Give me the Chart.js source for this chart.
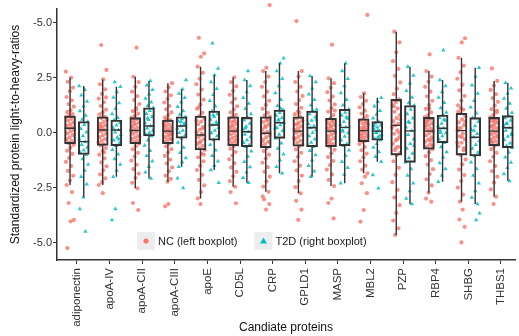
<!DOCTYPE html>
<html lang="en">
<head>
  <meta charset="UTF-8" />
  <title>Candidate proteins – light-to-heavy ratios</title>
  <script src="https://cdn.jsdelivr.net/npm/chart.js"></script>
  <style>
    body { margin: 0; background: #fff; }
    #wrap { width: 519px; height: 336px; }
  </style>
</head>
<body>
  <div id="wrap"><canvas id="proteinChart"></canvas></div>

  <script>
    const proteins = ["adiponectin", "apoA-IV", "apoA-CII", "apoA-CIII", "apoE", "CD5L", "CRP",
      "GPLD1", "MASP", "MBL2", "PZP", "RBP4", "SHBG", "THBS1"];

    const yTickValues = [-5, -2.5, 0, 2.5, 5];
    const yTickLabels = ["-5.0", "-2.5", "0.0", "2.5", "-5.0"];

    // box statistics, NC (left box)
    const ncLow    = [-2.38, -2.38, -2.53, -2.23, -2.99, -2.46, -2.69, -2.76, -2.43, -1.85, -4.65, -2.73, -3.14, -2.91];
    const ncQ1     = [-0.5, -0.58, -0.5, -0.5, -0.79, -0.6, -0.69, -0.62, -0.64, -0.41, -1.02, -0.75, -1.02, -0.6];
    const ncMedian = [0.2, 0.12, 0.1, 0.07, -0.11, 0.07, -0.03, 0.07, 0.07, 0.09, 0.33, 0.07, 0.09, 0.07];
    const ncQ3     = [0.75, 0.72, 0.68, 0.57, 0.75, 0.72, 0.72, 0.72, 0.65, 0.63, 1.51, 0.69, 0.88, 0.69];
    const ncHigh   = [2.5, 2.42, 2.54, 2.25, 3.0, 2.51, 2.8, 2.8, 2.47, 1.79, 4.59, 2.8, 3.4, 2.35];

    // box statistics, T2D (right box)
    const t2dLow    = [-2.94, -2.0, -2.08, -1.55, -1.7, -2.28, -1.85, -2.0, -2.3, -1.32, -3.25, -2.23, -3.25, -2.2];
    const t2dQ1     = [-0.99, -0.6, -0.15, -0.25, -0.34, -0.64, -0.26, -0.64, -0.6, -0.34, -1.35, -0.46, -1.06, -0.69];
    const t2dMedian = [-0.41, 0.12, 0.3, 0.3, 0.35, 0.04, 0.45, 0.22, 0.24, 0.07, 0.08, 0.2, -0.21, 0.22];
    const t2dQ3     = [0.5, 0.57, 1.13, 0.72, 0.98, 0.69, 1.03, 0.98, 1.06, 0.5, 1.23, 0.8, 0.68, 0.77];
    const t2dHigh   = [2.12, 2.09, 2.35, 1.97, 2.62, 2.39, 3.15, 2.57, 3.15, 1.59, 3.0, 2.39, 2.95, 2.27];

    // individual samples, NC
    const ncPoints = [
      [2.77, 2.5, 2.31, 2.05, 1.88, 1.62, 1.47, 1.3, 1.18, 1.02, 0.93, 0.84, 0.77, 0.71, 0.62, 0.55, 0.46, 0.38, 0.31, 0.24, 0.2, 0.14, 0.06, -0.03, -0.11, -0.22, -0.3, -0.38, -0.47, -0.55, -0.68, -0.82, -0.97, -1.15, -1.33, -1.52, -1.74, -1.96, -2.18, -2.38, -2.7, -3.2, -3.97, -4.03, -5.25],
      [3.98, 2.85, 2.42, 2.2, 1.97, 1.76, 1.55, 1.38, 1.21, 1.05, 0.92, 0.83, 0.72, 0.66, 0.57, 0.48, 0.4, 0.33, 0.25, 0.18, 0.12, 0.05, -0.04, -0.12, -0.2, -0.29, -0.37, -0.45, -0.52, -0.58, -0.7, -0.84, -1.0, -1.17, -1.35, -1.53, -1.71, -1.9, -2.08, -2.25, -2.38, -0.9, 0.3, 1.6, -2.75],
      [3.86, 2.54, 2.3, 2.08, 1.86, 1.66, 1.48, 1.3, 1.13, 0.98, 0.86, 0.76, 0.68, 0.61, 0.53, 0.45, 0.37, 0.29, 0.22, 0.16, 0.1, 0.03, -0.05, -0.13, -0.21, -0.29, -0.36, -0.43, -0.5, -0.62, -0.76, -0.92, -1.09, -1.27, -1.46, -1.66, -1.86, -2.06, -2.28, -2.53, 0.42, -0.2, 1.05, -3.2, -3.52],
      [2.25, 2.06, 1.87, 1.7, 1.53, 1.37, 1.21, 1.06, 0.92, 0.8, 0.68, 0.57, 0.51, 0.44, 0.37, 0.3, 0.23, 0.16, 0.11, 0.07, 0.01, -0.06, -0.13, -0.2, -0.27, -0.34, -0.42, -0.5, -0.62, -0.75, -0.9, -1.06, -1.23, -1.4, -1.58, -1.76, -1.95, -2.1, -2.23, 0.33, -0.08, 0.6, -0.3, -3.25, -3.35],
      [4.31, 3.6, 3.45, 3.0, 2.72, 2.45, 2.2, 1.96, 1.73, 1.5, 1.28, 1.08, 0.9, 0.75, 0.63, 0.5, 0.38, 0.26, 0.14, 0.02, -0.11, -0.2, -0.3, -0.4, -0.5, -0.6, -0.7, -0.79, -0.95, -1.12, -1.3, -1.5, -1.7, -1.92, -2.15, -2.4, -2.7, -2.99, 0.2, -0.45, 0.55, -0.05, 1.15, -1.0, -3.25],
      [2.51, 2.3, 2.1, 1.9, 1.72, 1.54, 1.37, 1.2, 1.05, 0.92, 0.81, 0.72, 0.64, 0.56, 0.48, 0.4, 0.32, 0.24, 0.16, 0.11, 0.07, 0.0, -0.08, -0.16, -0.24, -0.32, -0.4, -0.48, -0.54, -0.6, -0.73, -0.88, -1.04, -1.21, -1.39, -1.58, -1.78, -1.98, -2.2, -2.46, 0.3, -0.3, 0.5, -2.7, -3.21],
      [5.8, 2.95, 2.8, 2.55, 2.3, 2.08, 1.86, 1.65, 1.45, 1.26, 1.08, 0.9, 0.78, 0.72, 0.6, 0.48, 0.36, 0.25, 0.14, 0.04, -0.03, -0.12, -0.22, -0.32, -0.42, -0.52, -0.6, -0.69, -0.84, -1.0, -1.18, -1.37, -1.57, -1.78, -2.0, -2.22, -2.45, -2.69, 0.3, -0.4, 0.55, -3.03, -3.25, -3.5, -2.9],
      [5.07, 2.8, 2.55, 2.3, 2.08, 1.87, 1.67, 1.48, 1.3, 1.13, 0.97, 0.84, 0.72, 0.64, 0.55, 0.46, 0.37, 0.28, 0.2, 0.13, 0.07, -0.01, -0.1, -0.19, -0.28, -0.37, -0.46, -0.55, -0.62, -0.76, -0.92, -1.1, -1.3, -1.5, -1.72, -1.95, -2.2, -2.48, -2.76, 0.4, -0.25, 0.9, -3.1, -3.5, -3.97],
      [4.0, 2.47, 2.25, 2.04, 1.84, 1.64, 1.46, 1.28, 1.11, 0.95, 0.8, 0.65, 0.58, 0.5, 0.42, 0.35, 0.27, 0.2, 0.13, 0.07, 0.0, -0.08, -0.16, -0.25, -0.34, -0.43, -0.52, -0.64, -0.78, -0.94, -1.11, -1.29, -1.48, -1.68, -1.9, -2.15, -2.43, 0.3, -0.3, 0.55, -0.5, 1.0, -3.0, -3.2, -3.9],
      [5.35, 1.79, 1.62, 1.45, 1.3, 1.15, 1.0, 0.87, 0.75, 0.63, 0.56, 0.49, 0.42, 0.35, 0.28, 0.21, 0.15, 0.09, 0.03, -0.03, -0.1, -0.17, -0.24, -0.31, -0.37, -0.41, -0.52, -0.65, -0.8, -0.95, -1.12, -1.3, -1.5, -1.68, -1.85, 0.2, -0.15, 0.45, 0.1, -0.3, -2.0, -2.3, -2.75, -3.52, -4.05],
      [4.59, 4.1, 3.65, 3.25, 2.9, 2.58, 2.28, 2.0, 1.75, 1.51, 1.38, 1.25, 1.1, 0.95, 0.8, 0.66, 0.52, 0.4, 0.33, 0.22, 0.1, -0.05, -0.2, -0.35, -0.5, -0.65, -0.8, -0.92, -1.02, -1.3, -1.6, -1.92, -2.25, -2.6, -2.95, -3.3, -3.65, -4.0, -4.35, -4.65, 0.6, -0.3, 1.2, 0.0, -0.7],
      [3.56, 2.8, 2.55, 2.31, 2.08, 1.86, 1.65, 1.45, 1.26, 1.08, 0.92, 0.78, 0.69, 0.6, 0.51, 0.42, 0.33, 0.25, 0.17, 0.1, 0.07, -0.02, -0.12, -0.22, -0.32, -0.42, -0.53, -0.64, -0.75, -0.9, -1.07, -1.25, -1.45, -1.66, -1.88, -2.12, -2.4, -2.73, 0.35, -0.35, 0.5, -0.6, 1.1, -3.0, -3.14],
      [4.29, 4.1, 3.4, 3.05, 2.75, 2.45, 2.18, 1.92, 1.67, 1.45, 1.24, 1.05, 0.88, 0.74, 0.6, 0.47, 0.34, 0.21, 0.09, -0.04, -0.17, -0.31, -0.46, -0.62, -0.8, -1.02, -1.22, -1.44, -1.68, -1.93, -2.2, -2.5, -2.82, -3.14, 0.5, -0.2, 0.2, -0.7, 1.1, -0.45, -3.5, -3.95, -4.28, -4.99, 0.95],
      [2.92, 2.35, 2.14, 1.94, 1.75, 1.57, 1.4, 1.23, 1.07, 0.92, 0.8, 0.69, 0.61, 0.53, 0.45, 0.37, 0.29, 0.21, 0.14, 0.07, 0.0, -0.07, -0.15, -0.23, -0.31, -0.39, -0.47, -0.54, -0.6, -0.75, -0.92, -1.1, -1.3, -1.52, -1.75, -2.0, -2.27, -2.58, -2.91, 0.3, -0.2, 0.5, -0.4, 1.0, -3.25]
    ];

    // individual samples, T2D
    const t2dPoints = [
      [2.12, 1.95, 1.7, 1.42, 1.2, 0.98, 0.78, 0.6, 0.5, 0.36, 0.18, 0.02, -0.15, -0.3, -0.41, -0.55, -0.68, -0.8, -0.92, -1.0, -1.2, -1.45, -1.72, -2.0, -2.35, -2.94, -3.47, -4.5],
      [2.3, 2.09, 1.85, 1.6, 1.35, 1.1, 0.85, 0.68, 0.57, 0.45, 0.33, 0.22, 0.12, 0.02, -0.1, -0.22, -0.35, -0.48, -0.6, -0.78, -0.98, -1.2, -1.45, -1.72, -2.0, -0.3, -3.47, -3.97],
      [2.35, 2.15, 1.95, 1.75, 1.55, 1.38, 1.22, 1.13, 1.0, 0.86, 0.72, 0.58, 0.44, 0.3, 0.2, 0.1, 0.0, -0.08, -0.15, -0.35, -0.58, -0.82, -1.05, -1.3, -1.55, -1.8, -2.08, 0.65],
      [2.39, 1.97, 1.78, 1.58, 1.38, 1.18, 0.98, 0.82, 0.72, 0.62, 0.52, 0.42, 0.3, 0.2, 0.1, 0.0, -0.12, -0.25, -0.45, -0.68, -0.92, -1.15, -1.35, -1.55, 0.35, 0.5, -2.07, -2.52],
      [4.06, 2.92, 2.62, 2.3, 2.0, 1.72, 1.45, 1.2, 0.98, 0.85, 0.72, 0.6, 0.48, 0.35, 0.22, 0.1, -0.02, -0.15, -0.34, -0.55, -0.8, -1.05, -1.3, -1.5, -1.7, 0.4, 0.8, -2.28],
      [2.8, 2.39, 2.12, 1.85, 1.58, 1.32, 1.08, 0.85, 0.69, 0.56, 0.42, 0.28, 0.15, 0.04, -0.08, -0.2, -0.33, -0.46, -0.56, -0.64, -0.85, -1.08, -1.32, -1.56, -1.8, -2.05, -2.28, 0.2],
      [3.38, 3.15, 2.8, 2.45, 2.12, 1.8, 1.5, 1.22, 1.03, 0.9, 0.78, 0.66, 0.55, 0.45, 0.35, 0.22, 0.08, -0.08, -0.26, -0.48, -0.72, -0.98, -1.25, -1.55, -1.85, 0.6, 0.2, 1.1],
      [2.57, 2.3, 2.02, 1.75, 1.5, 1.25, 1.05, 0.98, 0.85, 0.7, 0.55, 0.4, 0.3, 0.22, 0.12, 0.0, -0.15, -0.3, -0.45, -0.58, -0.64, -0.82, -1.02, -1.25, -1.5, -1.75, -2.0, 0.6],
      [3.15, 2.8, 2.45, 2.12, 1.8, 1.5, 1.25, 1.06, 0.92, 0.78, 0.64, 0.5, 0.37, 0.24, 0.12, -0.02, -0.18, -0.35, -0.5, -0.6, -0.8, -1.05, -1.32, -1.6, -1.9, -2.3, 0.7, 0.05],
      [1.59, 1.4, 1.2, 1.0, 0.82, 0.65, 0.5, 0.42, 0.33, 0.24, 0.15, 0.07, -0.01, -0.1, -0.2, -0.28, -0.34, -0.5, -0.68, -0.88, -1.1, -1.32, 0.1, 0.3, -0.15, 0.0, -1.93, -2.53],
      [3.0, 2.6, 2.25, 1.9, 1.6, 1.35, 1.23, 1.05, 0.85, 0.65, 0.45, 0.25, 0.08, -0.1, -0.3, -0.5, -0.72, -0.95, -1.15, -1.35, -1.65, -1.95, -2.3, -2.65, -3.0, -3.25, 0.5, -0.6],
      [3.75, 2.39, 2.12, 1.85, 1.6, 1.36, 1.12, 0.92, 0.8, 0.68, 0.55, 0.42, 0.3, 0.2, 0.1, -0.02, -0.15, -0.3, -0.46, -0.65, -0.88, -1.12, -1.38, -1.65, -1.95, -2.23, 0.6, 0.0],
      [2.95, 2.55, 2.15, 1.78, 1.45, 1.15, 0.88, 0.68, 0.5, 0.3, 0.12, -0.05, -0.21, -0.38, -0.55, -0.72, -0.9, -1.06, -1.35, -1.65, -1.95, -2.3, -2.65, -2.95, -3.25, 0.1, -3.67, -3.97],
      [2.27, 2.02, 1.78, 1.55, 1.32, 1.1, 0.9, 0.77, 0.66, 0.55, 0.43, 0.32, 0.22, 0.1, -0.04, -0.18, -0.33, -0.48, -0.6, -0.69, -0.9, -1.12, -1.36, -1.6, -1.88, -2.2, 0.4, -0.1]
    ];

    const NC_COLOR = "#F8766D";
    const T2D_COLOR = "#00BFC4";
    const BOX_SHIFT = 0.21;   // half distance between the two boxes of a protein

    // spread points sideways around the box centre (golden ratio steps, no randomness)
    function jitter(k, width) {
      return (((k * 0.618034) % 1) - 0.5) * width;
    }

    function pointsFor(groups, shift, width) {
      const out = [];
      groups.forEach((vals, i) => {
        vals.forEach((v, k) => out.push({ x: i + shift + jitter(k + i * 7, width), y: v }));
      });
      return out;
    }

    function boxesFor(q1, q3, shift) {
      return proteins.map((_, i) => ({ x: i + shift, y: [q1[i], q3[i]] }));
    }

    const boxStyle = {
      type: "bar",
      backgroundColor: "rgba(0,0,0,0)",
      borderColor: "#333",
      borderWidth: 1.4,
      borderSkipped: false,
      barThickness: 11,
      grouped: false,
      order: 0
    };

    // whiskers + median lines on top of the boxes
    const whiskerPlugin = {
      id: "whiskers",
      afterDatasetsDraw(chart) {
        const ctx = chart.ctx;
        const y = chart.scales.y;
        chart.data.datasets.forEach((ds, di) => {
          if (!ds.whisker) return;
          const meta = chart.getDatasetMeta(di);
          meta.data.forEach((bar, i) => {
            const half = bar.width / 2;
            const pLow = y.getPixelForValue(ds.whisker.low[i]);
            const pHigh = y.getPixelForValue(ds.whisker.high[i]);
            const pQ1 = y.getPixelForValue(ds.whisker.q1[i]);
            const pQ3 = y.getPixelForValue(ds.whisker.q3[i]);
            const pMed = y.getPixelForValue(ds.whisker.median[i]);
            ctx.save();
            ctx.strokeStyle = "#333";
            ctx.lineWidth = 1.4;
            ctx.beginPath();
            ctx.moveTo(bar.x, pHigh); ctx.lineTo(bar.x, pQ3);
            ctx.moveTo(bar.x, pQ1); ctx.lineTo(bar.x, pLow);
            ctx.moveTo(bar.x - half, pMed); ctx.lineTo(bar.x + half, pMed);
            ctx.stroke();
            ctx.restore();
          });
        });
      }
    };

    // legend sitting inside the plot, near the bottom
    const legendPlugin = {
      id: "insideLegend",
      afterDraw(chart) {
        const ctx = chart.ctx;
        const cy = chart.chartArea.bottom - 19;
        ctx.save();
        ctx.font = "11px 'Liberation Sans', Arial, sans-serif";
        ctx.textBaseline = "middle";
        let x = 137;
        const items = [
          { label: "NC (left boxplot)", color: NC_COLOR, shape: "circle" },
          { label: "T2D (right boxplot)", color: T2D_COLOR, shape: "triangle" }
        ];
        items.forEach(it => {
          ctx.fillStyle = "#EDEDED";
          ctx.fillRect(x, cy - 9, 18, 18);
          ctx.fillStyle = it.color;
          ctx.beginPath();
          if (it.shape === "circle") {
            ctx.arc(x + 9, cy, 2.6, 0, Math.PI * 2);
          } else {
            ctx.moveTo(x + 9, cy - 3.5);
            ctx.lineTo(x + 12.5, cy + 2.5);
            ctx.lineTo(x + 5.5, cy + 2.5);
            ctx.closePath();
          }
          ctx.fill();
          ctx.fillStyle = "#222";
          ctx.fillText(it.label, x + 21, cy + 1);
          x += 21 + ctx.measureText(it.label).width + 17;
        });
        ctx.restore();
      }
    };

    const chart = new Chart(document.getElementById("proteinChart"), {
      type: "bar",
      data: {
        datasets: [
          Object.assign({}, boxStyle, {
            label: "NC box",
            data: boxesFor(ncQ1, ncQ3, -BOX_SHIFT),
            whisker: { low: ncLow, q1: ncQ1, median: ncMedian, q3: ncQ3, high: ncHigh }
          }),
          Object.assign({}, boxStyle, {
            label: "T2D box",
            data: boxesFor(t2dQ1, t2dQ3, BOX_SHIFT),
            whisker: { low: t2dLow, q1: t2dQ1, median: t2dMedian, q3: t2dQ3, high: t2dHigh }
          }),
          {
            type: "scatter",
            label: "NC (left boxplot)",
            data: pointsFor(ncPoints, -BOX_SHIFT, 0.26),
            pointStyle: "circle",
            pointRadius: 2.1,
            pointBorderWidth: 0,
            backgroundColor: "rgba(248,118,109,0.8)",
            clip: false,
            order: 1
          },
          {
            type: "scatter",
            label: "T2D (right boxplot)",
            data: pointsFor(t2dPoints, BOX_SHIFT, 0.28),
            pointStyle: "triangle",
            pointRadius: 2.5,
            pointBorderWidth: 0,
            backgroundColor: "rgba(0,191,196,0.85)",
            clip: false,
            order: 1
          }
        ]
      },
      options: {
        responsive: true,
        maintainAspectRatio: false,
        animation: false,
        layout: { padding: { top: 9, right: 0, bottom: 0, left: 0 } },
        plugins: {
          legend: { display: false },
          tooltip: { enabled: false }
        },
        scales: {
          x: {
            type: "linear",
            min: -0.61,
            max: 13.43,
            offset: false,
            afterBuildTicks: (scale) => { scale.ticks = proteins.map((_, i) => ({ value: i })); },
            afterFit: (scale) => { scale.height = 76; },
            ticks: {
              autoSkip: false,
              minRotation: 90,
              maxRotation: 90,
              padding: 4,
              color: "#333",
              font: { size: 11.5, family: "'Liberation Sans', Arial, sans-serif" },
              callback: (v) => proteins[v]
            },
            grid: { drawOnChartArea: false, offset: false, drawTicks: true, tickLength: 4, color: "#333", lineWidth: 1 },
            border: { display: true, color: "#333", width: 1.5 },
            title: {
              display: true,
              text: "Candiate proteins",
              color: "#111",
              padding: { top: 0, bottom: 1 },
              font: { size: 12, family: "'Liberation Sans', Arial, sans-serif" }
            }
          },
          y: {
            min: -5.79,
            max: 5.62,
            afterBuildTicks: (scale) => { scale.ticks = yTickValues.map(v => ({ value: v })); },
            afterFit: (scale) => { scale.width = 57; },
            ticks: {
              padding: 1,
              color: "#333",
              font: { size: 11, family: "'Liberation Sans', Arial, sans-serif" },
              callback: (v) => yTickLabels[yTickValues.indexOf(v)]
            },
            grid: { drawOnChartArea: false, drawTicks: true, tickLength: 4, color: "#333", lineWidth: 1 },
            border: { display: true, color: "#333", width: 1.5 },
            title: {
              display: true,
              text: "Standardized protein light-to-heavy-ratios",
              color: "#111",
              padding: { top: 8, bottom: 0 },
              font: { size: 12, family: "'Liberation Sans', Arial, sans-serif" }
            }
          }
        }
      },
      plugins: [whiskerPlugin, legendPlugin]
    });
  </script>
</body>
</html>
